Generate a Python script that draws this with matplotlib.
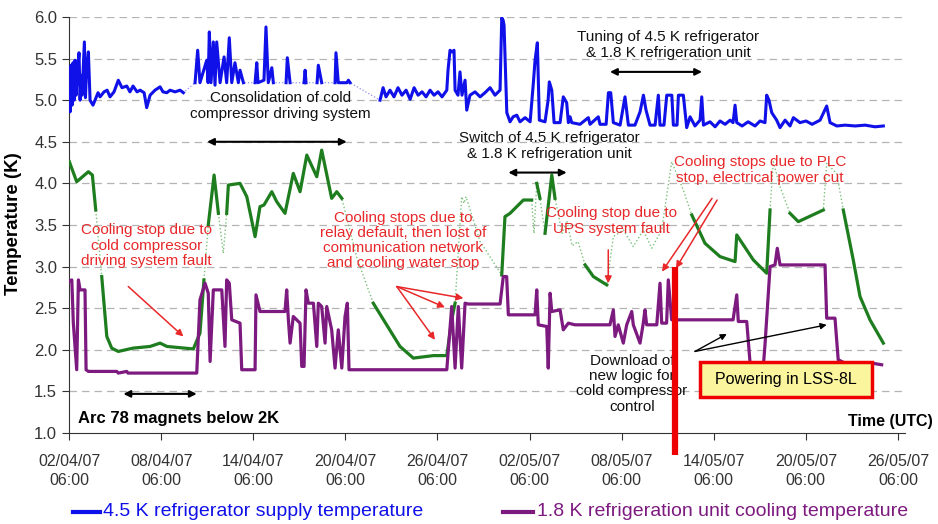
import numpy as np
import matplotlib
matplotlib.use("Agg")
import matplotlib.pyplot as plt
from matplotlib.patches import Rectangle

plt.rcParams['font.family'] = ['Liberation Sans', 'DejaVu Sans']

# ---------------- data (x = days since 02/04/07 06:00 UTC, y = K) ----------------
BLUE_DAYS = [0.00, 0.07, 0.13, 0.20, 0.26, 0.33, 0.39, 0.46, 0.55, 0.65, 0.72, 0.78, 0.85, 1.00, 1.07, 1.14, 1.26, 1.37,
             1.56, 1.69, 1.89, 2.02, 2.28, 2.48, 2.67, 2.93, 3.21, 3.45, 3.76, 3.97, 4.17, 4.43, 4.63, 4.89, 5.06, 5.28,
             5.60, 5.93, 6.12, 6.37, 6.58, 6.91, 7.23, 7.45,
             8.21, 8.38, 8.53, 8.97, 9.06, 9.14, 9.25, 9.40, 9.51, 9.62, 9.84, 10.10, 10.27, 10.44, 10.60, 10.81, 11.03,
             11.14, 11.36,
             12.12, 12.23, 12.31, 12.70, 12.83, 12.98, 13.21, 13.31,
             14.14, 14.22, 14.40,
             15.31, 15.38, 15.44,
             16.16, 16.24, 16.46,
             17.33, 17.39, 17.54, 18.11, 18.20, 18.31,
             20.26, 20.46, 20.65, 20.91, 21.17, 21.43, 21.69, 21.96, 22.22, 22.48, 22.74, 23.00, 23.26, 23.52, 23.78,
             24.04, 24.30, 24.61, 24.69, 24.82, 24.95, 25.08, 25.15, 25.34, 25.47, 25.60, 25.80, 25.91, 26.12, 26.45,
             26.78, 27.10, 27.43, 27.75, 28.08, 28.19, 28.28, 28.34, 28.41, 28.52, 28.73, 28.93, 29.17, 29.38, 29.71,
             30.04, 30.25, 30.36, 30.51, 30.64, 31.01, 31.21, 31.29, 31.45, 31.60, 31.99, 32.20, 32.42, 32.53, 32.64,
             32.75, 33.29, 33.83, 33.94, 34.48, 34.59, 34.99, 35.14, 35.29, 35.46, 35.90, 36.22, 36.44, 36.87, 37.20,
             37.42, 37.59, 37.85, 38.18, 38.39, 38.50, 38.76, 38.94, 39.27, 39.37, 39.61, 39.70, 40.02, 40.24, 40.46,
             40.78, 41.11, 41.22, 41.33, 41.76, 42.09, 42.41, 42.74, 43.07, 43.26, 43.39, 43.50, 43.85, 44.24, 44.69,
             45.02, 45.34, 45.45, 45.60, 45.78, 46.10, 46.32, 46.65, 46.97, 47.19, 47.62, 48.01, 48.41, 48.93, 49.36,
             49.58, 50.02, 50.56, 51.21, 51.86, 52.51, 53.05]
BLUE_T = [5.00, 4.86, 5.42, 4.94, 5.45, 5.00, 5.48, 5.06, 5.36, 5.57, 5.00, 5.30, 5.06, 5.70, 5.03, 5.36, 5.58, 5.00,
          4.94, 5.00, 5.09, 5.04, 5.10, 5.12, 5.04, 5.10, 5.24, 5.15, 5.17, 5.10, 5.17, 5.10, 5.12, 5.09, 4.91, 5.06,
          5.12, 5.16, 5.10, 5.09, 5.12, 5.10, 5.12, 5.09,
          5.21, 5.60, 5.21, 5.48, 5.21, 5.82, 5.21, 5.70, 5.18, 5.70, 5.21, 5.52, 5.21, 5.75, 5.21, 5.45, 5.21,
          5.36, 5.21,
          5.21, 5.45, 5.21, 5.24, 5.88, 5.21, 5.39, 5.21,
          5.21, 5.51, 5.21,
          5.21, 5.36, 5.21,
          5.21, 5.42, 5.21,
          5.21, 5.57, 5.21, 5.21, 5.24, 5.21,
          5.00, 5.15, 5.04, 5.12, 5.04, 5.15, 5.06, 5.12, 5.01, 5.15, 5.06, 5.10, 5.04, 5.12, 5.06,
          5.10, 5.04, 5.12, 5.36, 5.60, 5.58, 5.60, 5.12, 5.06, 5.34, 5.06, 5.24, 4.88, 5.06, 5.10,
          5.04, 5.09, 5.15, 5.06, 5.12, 5.99, 5.96, 5.90, 5.48, 4.85, 4.74, 4.80, 4.82, 4.74, 4.79,
          4.74, 5.21, 5.48, 5.69, 4.76, 4.74, 5.00, 5.22, 5.12, 4.73, 4.73, 5.04, 4.97, 4.73, 4.80,
          4.73, 4.71, 4.79, 4.71, 4.80, 4.71, 4.71, 5.09, 5.09, 4.73, 4.70, 5.04, 4.70, 4.70, 4.86,
          5.06, 4.88, 4.70, 4.70, 5.06, 4.70, 4.70, 5.06, 5.06, 4.70, 4.70, 5.06, 5.06, 4.67, 4.80,
          4.69, 4.76, 5.04, 4.70, 4.74, 4.68, 4.75, 4.71, 4.76, 4.73, 4.94, 4.73, 4.69, 4.74, 4.69,
          4.75, 4.73, 5.06, 5.00, 4.85, 4.76, 4.67, 4.76, 4.69, 4.79, 4.73, 4.75, 4.71, 4.76, 4.93,
          4.73, 4.69, 4.70, 4.69, 4.70, 4.68, 4.69]
BLUE_GAPS = [(7.45, 8.21), (11.36, 12.12), (13.31, 14.14), (14.40, 15.31), (15.44, 16.16),
             (16.46, 17.33), (18.31, 20.26)]

GREEN_DAYS = [0.02, 0.50, 1.26, 1.52, 1.74, 2.13, 2.46, 2.78, 3.21, 4.17, 5.28, 5.93, 6.38, 8.10, 8.53, 8.79, 9.07,
              9.45, 9.73, 10.05, 10.27, 10.38, 11.14, 11.58, 12.12, 12.44, 12.70, 13.21, 13.53, 14.07, 14.61, 15.05,
              15.49, 16.14, 16.46, 17.11, 17.44, 17.77, 18.76, 19.82, 21.56, 22.43, 23.73, 24.61, 24.93, 25.15,
              25.58, 25.73, 25.86, 26.78, 28.19, 28.40, 28.73, 29.60, 30.14, 30.29, 30.47, 30.68, 31.01, 31.45,
              31.66, 32.12, 32.44, 32.77, 33.16, 33.62, 34.16, 35.03, 35.46, 36.11, 36.76, 37.41, 37.96, 38.61,
              39.26, 40.02, 40.57, 41.43, 42.41, 43.39, 43.50, 44.58, 45.45, 45.67, 45.88, 46.32, 46.97, 47.51,
              49.14, 49.36, 50.01, 50.44, 51.09, 51.53, 52.18, 53.05]
GREEN_T = [4.26, 4.02, 4.14, 4.10, 3.68, 2.88, 2.16, 2.02, 1.98, 2.02, 2.04, 2.08, 2.04, 2.01, 2.20, 2.84, 3.50,
           4.10, 3.64, 3.16, 3.64, 3.98, 4.00, 3.84, 3.36, 3.72, 3.74, 3.90, 3.78, 3.64, 4.12, 3.90,
           4.34, 4.08, 4.40, 3.82, 3.90, 3.82, 3.10, 2.56, 2.04, 1.90, 1.93, 1.93, 2.36, 2.56,
           3.84, 3.76, 3.84, 3.30, 2.90, 3.60, 3.64, 3.80, 3.80, 3.40, 4.00, 3.82, 3.40, 4.10,
           3.82, 3.40, 3.55, 3.25, 3.30, 3.02, 2.88, 2.78, 3.36, 3.44, 3.24, 3.44, 3.22, 3.44,
           4.26, 3.92, 3.62, 3.28, 3.12, 3.06, 3.38, 3.08, 2.92, 3.68, 4.26, 3.96, 3.64, 3.54,
           3.68, 4.24, 4.12, 3.68, 3.08, 2.64, 2.36, 2.08]
GREEN_GAPS = [(1.74, 2.13), (8.79, 9.07), (9.73, 10.27), (17.77, 19.82), (25.15, 28.19), (30.14, 30.47),
              (30.68, 31.01), (31.66, 33.62), (35.03, 40.57), (45.67, 46.97), (49.14, 50.44)]

PURPLE_DAYS = [0.00, 0.18, 0.28, 0.50, 0.61, 0.72, 1.04, 1.11, 1.26, 3.11, 3.21, 3.76, 3.84, 8.32, 8.53, 8.86, 9.07,
               9.19, 9.40, 9.95, 10.16, 10.27, 10.44, 10.60, 11.14, 11.25, 12.12, 12.18, 12.44, 14.07, 14.18, 14.29,
               14.40, 14.61, 15.05, 15.16, 15.31, 15.44, 15.59, 15.92, 16.14, 16.24, 16.46, 16.68, 16.79, 17.11,
               17.33, 17.54, 17.77, 17.98, 18.13, 18.24, 24.61, 24.93, 25.15, 25.36, 25.58, 25.80, 26.01, 28.08,
               28.29, 28.51, 28.62, 30.36, 30.47, 30.57, 31.12, 31.22, 31.34, 31.45, 31.99, 32.20, 32.53, 32.96,
               35.24, 35.46, 35.57, 35.78, 36.11, 36.33, 36.66, 36.76, 37.20, 37.41, 37.52, 37.63, 38.29, 38.50,
               38.61, 38.93, 39.04, 39.26, 39.80, 43.26, 43.50, 43.60, 44.15, 44.36, 44.50, 45.21, 45.34, 45.67,
               45.99, 46.14, 46.32, 49.25, 49.36, 49.90, 50.11, 50.55, 52.29, 52.94]
PURPLE_T = [2.82, 2.84, 2.32, 1.76, 2.84, 2.72, 2.72, 1.76, 1.74, 1.74, 1.72, 1.74, 1.72, 1.72, 2.60, 2.80, 2.68,
            1.86, 2.72, 2.72, 2.04, 2.84, 2.80, 2.36, 2.32, 1.76, 1.76, 2.66, 2.46, 2.46, 2.72, 2.36,
            2.08, 2.40, 2.32, 1.80, 1.80, 2.72, 2.56, 2.56, 2.04, 2.56, 2.52, 2.08, 2.52, 2.24,
            1.78, 2.24, 1.78, 2.40, 2.56, 1.76, 1.76, 2.52, 1.78, 2.52, 1.78, 2.56, 2.55, 2.55,
            2.88, 2.88, 2.42, 2.42, 2.72, 2.30, 2.28, 1.78, 2.68, 2.46, 2.48, 2.24, 2.32, 2.30,
            2.30, 2.48, 2.16, 2.30, 2.08, 2.30, 2.46, 2.30, 2.08, 2.32, 2.48, 2.30, 2.30, 2.80,
            2.32, 2.32, 2.84, 2.36, 2.36, 2.36, 2.66, 2.34, 2.34, 1.86, 1.75, 1.75, 2.06, 3.00,
            3.02, 3.22, 3.02, 3.02, 2.38, 2.38, 1.88, 1.84, 1.84, 1.82]

TICK_DAYS = [0, 6, 12, 18, 24, 30, 36, 42, 48, 54]
TICK_LABELS = ['02/04/07\n06:00', '08/04/07\n06:00', '14/04/07\n06:00', '20/04/07\n06:00', '26/04/07\n06:00',
               '02/05/07\n06:00', '08/05/07\n06:00', '14/05/07\n06:00', '20/05/07\n06:00', '26/05/07\n06:00']
LSS8L_POWERING_DAY = 39.48

BLUE = '#1010e8'
GREEN = '#1e7d1e'
PURPLE = '#7d1a80'
RED = '#e8282a'
ANN = 11


def split_gaps(x, y, gaps):
    xs, ys = [], []
    for i in range(len(x)):
        xs.append(x[i]); ys.append(y[i])
        if i < len(x) - 1:
            mid = 0.5 * (x[i] + x[i + 1])
            if any(a <= mid <= b for a, b in gaps):
                xs.append(np.nan); ys.append(np.nan)
    return xs, ys


fig = plt.figure(figsize=(9.38, 5.24), dpi=100)
ax = fig.add_axes([0.0736, 0.1737, 0.8912, 0.7939])
ax.set_xlim(0, 54.46)
ax.set_ylim(1.0, 6.0)

for v in np.arange(1.5, 6.01, 0.5):
    ax.axhline(v, color='#b4b4b4', lw=0.9, ls=(0, (6, 4)), zorder=0)

# dotted (interpolated / sparse) background lines
ax.plot(BLUE_DAYS, BLUE_T, color='#9090f0', lw=0.9, ls=':', zorder=1)
ax.plot(GREEN_DAYS, GREEN_T, color='#7cc07c', lw=1.0, ls=':', zorder=1)

bx, by = split_gaps(BLUE_DAYS, BLUE_T, BLUE_GAPS)
ax.plot(bx, by, color=BLUE, lw=2.2, zorder=3)
gx, gy = split_gaps(GREEN_DAYS, GREEN_T, GREEN_GAPS)
ax.plot(gx, gy, color=GREEN, lw=2.3, zorder=3)
ax.plot(PURPLE_DAYS, PURPLE_T, color=PURPLE, lw=2.3, zorder=3)

# axes styling
for s in ['top', 'right']:
    ax.spines[s].set_visible(False)
ax.spines['left'].set_color('#333333')
ax.spines['bottom'].set_color('#333333')
ax.set_yticks(np.arange(1.0, 6.01, 0.5))
ax.set_yticklabels([f'{v:.1f}' for v in np.arange(1.0, 6.01, 0.5)], fontsize=12, color='#333333')
ax.set_xticks(TICK_DAYS)
ax.set_xticklabels(TICK_LABELS, fontsize=11.5, color='#333333', linespacing=1.35)
ax.tick_params(axis='both', direction='out', length=5, color='#333333')
ax.tick_params(axis='x', pad=10)

fig.text(0.014, 0.574, 'Temperature (K)', rotation=90, ha='center', va='center',
         fontsize=13.5, fontweight='bold')
fig.text(0.9947, 0.195, 'Time (UTC)', ha='right', va='center', fontsize=11.5, fontweight='bold')

# black annotations
arrow_k = dict(arrowstyle='<|-|>', color='black', lw=1.5, mutation_scale=10, shrinkA=0, shrinkB=0)
ax.text(39.02, 5.66, 'Tuning of 4.5 K refrigerator\n& 1.8 K refrigeration unit', ha='center', va='center',
        fontsize=ANN, linespacing=1.15, color='#111111')
ax.annotate('', xy=(41.24, 5.34), xytext=(35.24, 5.34), arrowprops=arrow_k)
ax.text(13.75, 4.93, 'Consolidation of cold\ncompressor driving system', ha='center', va='center',
        fontsize=ANN, linespacing=1.15, color='#111111')
ax.annotate('', xy=(18.09, 4.50), xytext=(8.99, 4.50), arrowprops=arrow_k)
ax.text(31.27, 4.45, 'Switch of 4.5 K refrigerator\n& 1.8 K refrigeration unit', ha='center', va='center',
        fontsize=ANN, linespacing=1.15, color='#111111')
ax.annotate('', xy=(32.42, 4.13), xytext=(28.62, 4.13), arrowprops=arrow_k)
ax.text(0.59, 1.17, 'Arc 78 magnets below 2K', ha='left', va='center', fontsize=12, fontweight='bold')
ax.annotate('', xy=(8.32, 1.47), xytext=(3.54, 1.47), arrowprops=arrow_k)

ax.text(36.68, 1.59, 'Download of\nnew logic for\ncold compressor\ncontrol', ha='center', va='center',
        fontsize=ANN, linespacing=1.1, color='#111111', zorder=4)
arrow_k1 = dict(arrowstyle='-|>', color='black', lw=1.0, mutation_scale=9, shrinkA=0, shrinkB=0)
ax.annotate('', xy=(42.85, 2.19), xytext=(40.78, 1.98), arrowprops=arrow_k1)
ax.annotate('', xy=(49.36, 2.30), xytext=(40.78, 1.98), arrowprops=arrow_k1)

# red annotations
arrow_r = dict(arrowstyle='-|>', color=RED, lw=1.1, mutation_scale=10, shrinkA=0, shrinkB=0)
ax.text(5.06, 3.25, 'Cooling stop due to\ncold compressor\ndriving system fault', ha='center', va='center',
        fontsize=ANN, linespacing=1.15, color=RED, zorder=5)
ax.annotate('', xy=(7.45, 2.16), xytext=(3.86, 2.76), arrowprops=arrow_r)
ax.text(21.78, 3.31, 'Cooling stops due to\nrelay default, then lost of\ncommunication network\nand cooling water stop',
        ha='center', va='center', fontsize=ANN, linespacing=1.1, color=RED, zorder=5)
for tx, ty in [(25.69, 2.62), (24.49, 2.51), (23.84, 2.12)]:
    ax.annotate('', xy=(tx, ty), xytext=(21.35, 2.76), arrowprops=arrow_r)
ax.text(35.31, 3.55, 'Cooling stop due to\nUPS system fault', ha='center', va='center',
        fontsize=ANN, linespacing=1.15, color=RED, zorder=5)
ax.annotate('', xy=(35.13, 2.80), xytext=(35.13, 3.20), arrowprops=arrow_r)
ax.text(45.02, 4.16, 'Cooling stops due to PLC\nstop, electrical power cut', ha='center', va='center',
        fontsize=ANN, linespacing=1.15, color=RED, zorder=5)
ax.annotate('', xy=(38.63, 2.94), xytext=(41.89, 3.82), arrowprops=arrow_r)
ax.annotate('', xy=(39.54, 2.98), xytext=(42.22, 3.80), arrowprops=arrow_r)

# LSS-8L powering marker
ax.plot([LSS8L_POWERING_DAY, LSS8L_POWERING_DAY], [3.0, 0.735], color='#ee0000', lw=4.5,
        solid_capstyle='butt', clip_on=False, zorder=6)
ax.add_patch(Rectangle((41.11, 1.43), 11.2, 0.42, facecolor='#fbf59e', edgecolor='#ee0000', lw=2.5,
                       zorder=7))
ax.text(46.71, 1.64, 'Powering in LSS-8L', ha='center', va='center', fontsize=11.5, zorder=8)

# legend at bottom
fig.add_artist(plt.Line2D([72.7 / 938, 100 / 938], [0.0235, 0.0235], color=BLUE, lw=3))
fig.text(103 / 938, 0.0235, '4.5 K refrigerator supply temperature', color=BLUE, fontsize=14,
         ha='left', va='center')
fig.add_artist(plt.Line2D([503.3 / 938, 533.3 / 938], [0.0235, 0.0235], color=PURPLE, lw=3))
fig.text(536.7 / 938, 0.0235, '1.8 K refrigeration unit cooling temperature', color=PURPLE, fontsize=14,
         ha='left', va='center')

fig.savefig('out.png', dpi=100)
